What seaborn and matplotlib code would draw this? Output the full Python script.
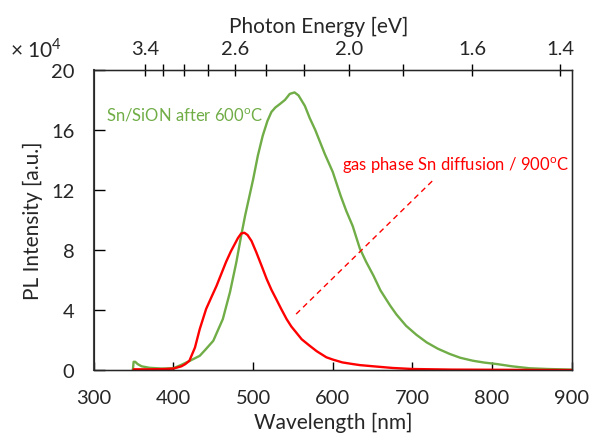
import numpy as np
import pandas as pd
import matplotlib
matplotlib.use("Agg")
import matplotlib.pyplot as plt
import seaborn as sns

sns.set_style("ticks")
plt.rcParams['font.family'] = ['Lato', 'DejaVu Sans']
plt.rcParams['mathtext.fontset'] = 'custom'
plt.rcParams['mathtext.rm'] = 'Lato'

# PL spectra (intensity in units of 1e4)
green_wl = [349, 350, 352, 355, 360, 370, 385, 400, 410, 420, 433, 440, 450, 462,
            471, 479, 485, 490, 500, 506, 512, 518, 523, 528, 533, 540, 546, 552, 557,
            565, 571, 578, 584, 590, 600, 610, 617, 625, 634, 642, 651, 660, 672, 680,
            692, 705, 718, 732, 747, 760, 776, 790, 806, 825, 847, 870, 900]
green_int = [0.0, 0.55, 0.55, 0.4, 0.25, 0.15, 0.1, 0.12, 0.35, 0.6, 0.95, 1.35, 1.95, 3.4,
             5.2, 7.2, 8.95, 10.3, 12.7, 14.3, 15.6, 16.6, 17.2, 17.5, 17.7, 18.0, 18.4, 18.5, 18.3,
             17.6, 16.8, 16.0, 15.2, 14.4, 13.2, 11.6, 10.6, 9.6, 8.1, 7.2, 6.3, 5.3, 4.3, 3.7,
             2.95, 2.35, 1.84, 1.42, 1.07, 0.82, 0.62, 0.5, 0.4, 0.25, 0.12, 0.07, 0.03]

red_wl = [350, 370, 390, 400, 410, 415, 420, 427, 433, 441, 448, 454, 460, 466, 472, 477,
          481, 485, 489, 493, 498, 504, 511, 517, 523, 529, 535, 542, 548, 554, 561, 571, 580,
          592, 600, 612, 625, 634, 651, 675, 700, 750, 800, 900]
red_int = [0.05, 0.05, 0.07, 0.1, 0.25, 0.4, 0.62, 1.5, 2.73, 4.07, 4.9, 5.6, 6.4, 7.2, 7.9, 8.4,
           8.8, 9.1, 9.15, 9.0, 8.6, 7.85, 6.9, 6.07, 5.35, 4.73, 4.1, 3.4, 2.9, 2.51, 2.05, 1.62, 1.25,
           0.85, 0.7, 0.51, 0.4, 0.33, 0.25, 0.14, 0.07, 0.03, 0.02, 0.0]

energy_ticks = [3.4, 3.2, 3.0, 2.8, 2.6, 2.4, 2.2, 2.0, 1.8, 1.6, 1.4]
energy_labels = ['3.4', '', '', '', '2.6', '', '', '2.0', '', '1.6', '1.4']

green_c = '#70AD47'
red_c = '#FF0000'

fig = plt.figure(figsize=(5.9, 4.35), dpi=100)
ax = fig.add_axes([0.159, 0.147, 0.81, 0.69])

sns.lineplot(x=green_wl, y=green_int, ax=ax, color=green_c, lw=1.7)
sns.lineplot(x=red_wl, y=red_int, ax=ax, color=red_c, lw=1.7)

ax.set_xlim(300, 900)
ax.set_ylim(0, 20)
ax.set_xticks(range(300, 901, 100))
ax.set_yticks(range(0, 21, 4))
ax.tick_params(axis='x', direction='in', length=6, width=1, pad=14, labelsize=14.5, color='black')
ax.tick_params(axis='y', direction='in', length=8, width=1, pad=14, labelsize=14.5, color='black')
for s in ax.spines.values():
    s.set_visible(True)
    s.set_color('black')
    s.set_linewidth(1)
ax.spines['left'].set_color('#444444')
ax.spines['left'].set_linewidth(1.5)

ax.set_xlabel('Wavelength [nm]', fontsize=15, labelpad=4)
ax.set_ylabel('PL Intensity [a.u.]', fontsize=15, labelpad=6)

# top axis: photon energy
top = ax.twiny()
top.set_xlim(ax.get_xlim())
top.set_xticks([1239.84 / e for e in energy_ticks])
top.set_xticklabels(energy_labels)
top.tick_params(axis='x', direction='inout', length=8, width=1, pad=5, labelsize=14.5, color='black')
top.set_xlabel('Photon Energy [eV]', fontsize=15, labelpad=6, x=0.47)

# annotations
ax.text(315, 17.0, 'Sn/SiON after 600$^{\\mathrm{o}}$C', color=green_c, fontsize=12, va='center')
ax.text(612, 13.7, 'gas phase Sn diffusion / 900$^{\\mathrm{o}}$C', color=red_c, fontsize=12, va='center')
ax.plot([554, 725], [3.73, 12.6], color=red_c, lw=1, ls=(0, (4, 3)))

fig.text(0.017, 0.885, '× 10$^{4}$', fontsize=15, va='center')

fig.savefig('out.png', dpi=100)
